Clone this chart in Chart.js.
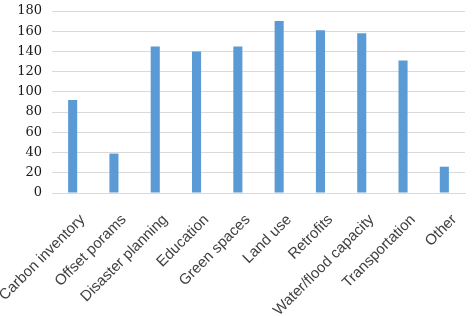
<!DOCTYPE html>
<html>
<head>
<meta charset="utf-8">
<script src="https://cdn.jsdelivr.net/npm/chart.js@4"></script>
<style>
  html, body { margin: 0; padding: 0; background: #fff; }
  .wrap { position: relative; width: 474px; height: 316px; }
</style>
</head>
<body>
<div class="wrap"><canvas id="chart" width="474" height="316"></canvas></div>
<script>
const categories = ["Carbon inventory", "Offset porams", "Disaster planning", "Education", "Green spaces",
  "Land use", "Retrofits", "Water/flood capacity", "Transportation", "Other"]
const counts = [92, 39, 145, 140, 145, 170, 161, 158, 131, 26]
const yTicks = [0, 20, 40, 60, 80, 100, 120, 140, 160, 180]

const barColor = "#5b9bd5"

new Chart(document.getElementById("chart"), {
  type: "bar",
  data: {
    labels: categories,
    datasets: [{
      data: counts,
      backgroundColor: barColor,
      borderWidth: 0,
      categoryPercentage: 1,
      barPercentage: 0.22
    }]
  },
  options: {
    responsive: false,
    animation: false,
    layout: { padding: { top: 11, right: 9, left: 0, bottom: 0 } },
    plugins: { legend: { display: false }, tooltip: { enabled: false } },
    scales: {
      x: {
        grid: { display: false, drawTicks: false },
        border: { color: "#d9d9d9" },
        ticks: {
          color: "#404040",
          font: { family: "Liberation Sans", size: 15 },
          minRotation: 45,
          maxRotation: 45,
          padding: 18,
          labelOffset: 10,
          autoSkip: false
        },
        afterFit: axis => {
          axis.height = 123
          axis.paddingLeft = 0
          axis.paddingRight = 0
        }
      },
      y: {
        min: 0,
        max: yTicks[yTicks.length - 1],
        afterBuildTicks: axis => { axis.ticks = yTicks.map(v => ({ value: v })) },
        grid: { color: "#d9d9d9", drawTicks: false },
        border: { display: false },
        ticks: {
          color: "#1a1a1a",
          font: { family: "DejaVu Serif", size: 13 },
          padding: 10,
          autoSkip: false
        },
        afterFit: axis => {
          axis.width = 52
          axis.paddingTop = 0
          axis.paddingBottom = 0
        }
      }
    }
  }
})
</script>
</body>
</html>
